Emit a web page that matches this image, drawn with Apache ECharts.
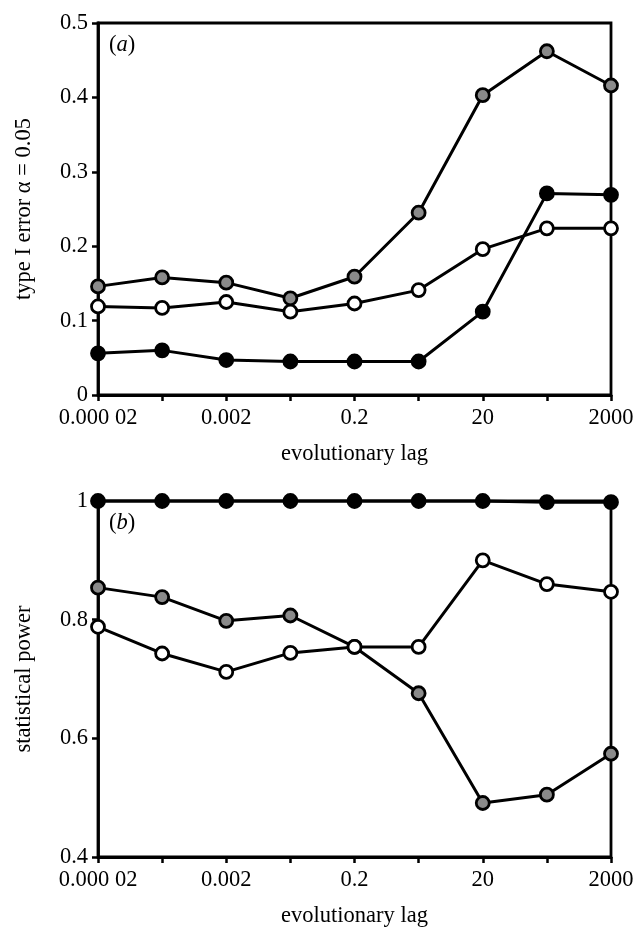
<!DOCTYPE html>
<html>
<head>
<meta charset="utf-8">
<script src="https://cdn.jsdelivr.net/npm/echarts@6/dist/echarts.min.js"></script>
<style>
html,body{margin:0;padding:0;background:#fff;}
#chart{width:637px;height:932px;}
</style>
</head>
<body>
<div id="chart"></div>
<script>
const lagCategories = ['0.000 02','0.0002','0.002','0.02','0.2','2','20','200','2000'];
const yTicksA = [0, 0.1, 0.2, 0.3, 0.4, 0.5];
const yTicksB = [0.4, 0.6, 0.8, 1];
// panel (a): type I error
const errGrey  = [0.146, 0.158, 0.151, 0.130, 0.159, 0.245, 0.403, 0.462, 0.416];
const errWhite = [0.119, 0.117, 0.125, 0.112, 0.123, 0.141, 0.196, 0.224, 0.224];
const errBlack = [0.056, 0.060, 0.047, 0.045, 0.045, 0.045, 0.112, 0.271, 0.269];
// panel (b): statistical power
const powGrey  = [0.854, 0.838, 0.798, 0.807, 0.754, 0.676, 0.491, 0.505, 0.574];
const powWhite = [0.788, 0.743, 0.712, 0.744, 0.754, 0.754, 0.900, 0.860, 0.847];
const powBlack = [1, 1, 1, 1, 1, 1, 1, 0.998, 0.998];

const FONT = 'Liberation Serif';
const FS = 22.5;
const chart = echarts.init(document.getElementById('chart'));

function xAxis(gi){
  return {
    type:'category', gridIndex:gi, data:lagCategories, boundaryGap:false,
    axisLine:{show:true, lineStyle:{color:'#000', width:2.8}},
    axisTick:{show:true, interval:0, length:6, inside:false, lineStyle:{color:'#000', width:2.5}},
    axisLabel:{interval:1, color:'#000', fontFamily:FONT, fontSize:FS, margin:12},
    name:'evolutionary lag', nameLocation:'middle', nameGap:48,
    nameTextStyle:{color:'#000', fontFamily:FONT, fontSize:FS},
    splitLine:{show:false}
  };
}
function yAxis(gi, ticks, name, gap){
  return {
    type:'value', gridIndex:gi, min:ticks[0], max:ticks[ticks.length-1],
    interval:ticks[1]-ticks[0],
    axisLine:{show:true, lineStyle:{color:'#000', width:2.8}},
    axisTick:{show:true, length:6, lineStyle:{color:'#000', width:2.5}},
    axisLabel:{color:'#000', fontFamily:FONT, fontSize:FS, margin:10,
      formatter:v=>String(Math.round(v*10)/10)},
    splitLine:{show:false},
    name:name, nameLocation:'middle', nameGap:gap, nameRotate:90,
    nameTextStyle:{color:'#000', fontFamily:FONT, fontSize:FS}
  };
}
function ser(gi, data, fill){
  return {
    type:'line', xAxisIndex:gi, yAxisIndex:gi, data:data, clip:false,
    symbol:'circle', symbolSize:13, showSymbol:true,
    lineStyle:{color:'#000', width:3},
    itemStyle:{color:fill, borderColor:'#000', borderWidth:2.8},
    emphasis:{disabled:true}, animation:false
  };
}
function panelLabel(letter, top){
  return {text:'{p|(}{i|'+letter+'}{p|)}', left:104, top:top,
    textStyle:{fontWeight:'normal', rich:{
      p:{fontFamily:FONT,fontSize:FS,color:'#000',fontWeight:'normal'},
      i:{fontFamily:FONT,fontSize:FS,fontStyle:'italic',color:'#000',fontWeight:'normal'}}}};
}

chart.setOption({
  animation:false,
  grid:[
    {left:98, right:26, top:23, height:372, show:true, borderColor:'#000', borderWidth:2.8, backgroundColor:'transparent'},
    {left:98, right:26, top:501, height:356, show:true, borderColor:'#000', borderWidth:2.8, backgroundColor:'transparent'}
  ],
  xAxis:[xAxis(0), xAxis(1)],
  yAxis:[yAxis(0, yTicksA, 'type I error α = 0.05', 62), yAxis(1, yTicksB, 'statistical power', 62)],
  title:[panelLabel('a', 29), panelLabel('b', 507)],
  series:[
    ser(0, errGrey, '#8a8a8a'), ser(0, errWhite, '#ffffff'), ser(0, errBlack, '#000000'),
    ser(1, powGrey, '#8a8a8a'), ser(1, powWhite, '#ffffff'), ser(1, powBlack, '#000000')
  ]
});
</script>
</body>
</html>
